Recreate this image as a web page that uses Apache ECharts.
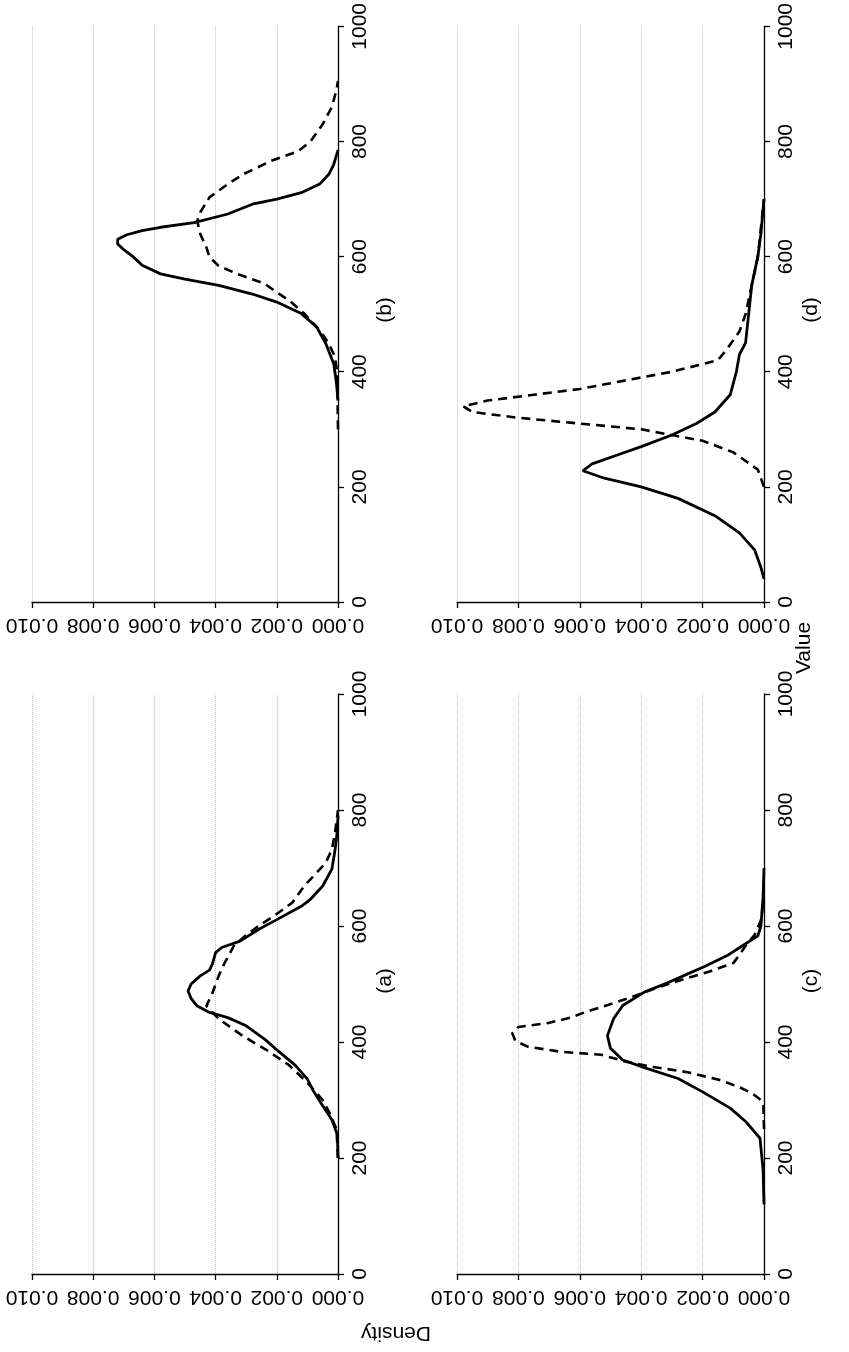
<!DOCTYPE html>
<html><head><meta charset="utf-8">
<script src="https://cdn.jsdelivr.net/npm/echarts/dist/echarts.min.js"></script>
<style>html,body{margin:0;padding:0;background:#fff}#c{width:849px;height:1352px}</style>
</head><body><div id="c"></div>
<script>
// tick definitions
const densityMin = 0, densityMax = 0.010, densityStep = 0.002;
const valueMin = 0, valueMax = 1000, valueStep = 200;
const panelLabels = ['(a)', '(b)', '(c)', '(d)'];
const xTitle = 'Value';
const yTitle = 'Density';

// curves: [value, density]
const aSolid = [[200,0],[240,0.00002],[266,0.0002],[290,0.0005],[315,0.0008],[336,0.0010],[360,0.0014],[382,0.0019],[405,0.0024],[428,0.0030],[442,0.0036],[451,0.0042],[462,0.0046],[475,0.0048],[488,0.0049],[500,0.0048],[514,0.0045],[524,0.0042],[535,0.0041],[554,0.0040],[563,0.0038],[574,0.0032],[594,0.0026],[611,0.0020],[634,0.0012],[646,0.0009],[669,0.0005],[698,0.0002],[730,0.0001],[760,0.00003],[790,0]];
const aDashed = [[200,0],[250,0.00005],[280,0.0003],[300,0.0005],[330,0.0010],[360,0.0016],[385,0.0023],[410,0.0031],[440,0.0039],[462,0.0043],[485,0.0041],[514,0.0039],[537,0.0037],[566,0.0034],[580,0.0031],[600,0.0026],[617,0.0021],[640,0.0015],[669,0.0011],[686,0.0008],[709,0.0004],[732,0.0002],[760,0.0001],[800,0]];
const bSolid = [[350,0],[380,0.00005],[414,0.00014],[449,0.0004],[478,0.0007],[501,0.0012],[521,0.0020],[535,0.0028],[550,0.0039],[561,0.0050],[570,0.0058],[585,0.0064],[600,0.0067],[612,0.0070],[622,0.0072],[630,0.0072],[638,0.0069],[645,0.0064],[651,0.0058],[659,0.0047],[674,0.0036],[691,0.0028],[700,0.0020],[711,0.0012],[726,0.0006],[743,0.0003],[760,0.00014],[785,0]];
const bDashed = [[300,0],[400,0.00003],[426,0.0001],[449,0.0003],[472,0.0006],[501,0.0011],[524,0.0016],[538,0.0020],[553,0.0024],[570,0.0033],[584,0.0039],[599,0.0042],[616,0.0043],[639,0.0045],[662,0.0046],[677,0.0045],[703,0.0042],[726,0.0036],[743,0.0031],[766,0.0022],[783,0.0013],[800,0.0009],[830,0.0005],[860,0.0002],[890,0.00005],[905,0]];
const cSolid = [[120,0],[180,0.00003],[234,0.00013],[263,0.0006],[286,0.0011],[314,0.0020],[337,0.0028],[354,0.0038],[369,0.0046],[389,0.0050],[411,0.0051],[440,0.0049],[463,0.0046],[486,0.0039],[503,0.0031],[517,0.0025],[531,0.0019],[549,0.0012],[566,0.0007],[583,0.0002],[600,0.0001],[650,0.00003],[700,0]];
const cDashed = [[250,0],[290,0.00002],[300,0.0001],[312,0.0004],[322,0.0008],[334,0.0014],[348,0.0025],[357,0.0036],[366,0.0045],[378,0.0053],[383,0.0066],[392,0.0077],[402,0.0081],[415,0.0082],[426,0.0080],[433,0.0070],[442,0.0063],[452,0.0058],[460,0.0053],[476,0.0044],[495,0.0034],[507,0.0027],[521,0.0018],[536,0.0010],[550,0.0008],[566,0.0006],[585,0.0003],[610,0.0001],[650,0]];
const dSolid = [[40,0],[60,0.0001],[90,0.0003],[120,0.0008],[150,0.0016],[180,0.0028],[200,0.0040],[215,0.0052],[228,0.0059],[240,0.0056],[255,0.0048],[270,0.0040],[290,0.0030],[310,0.0022],[330,0.0016],[360,0.0011],[400,0.0009],[430,0.0008],[450,0.0006],[500,0.0005],[550,0.0004],[600,0.0002],[640,0.0001],[700,0]];
const dDashed = [[200,0],[230,0.0002],[260,0.0010],[280,0.0020],[300,0.0040],[310,0.0060],[320,0.0080],[330,0.0095],[340,0.0098],[350,0.0090],[360,0.0075],[370,0.0060],[385,0.0045],[400,0.0030],[420,0.0015],[440,0.0012],[470,0.0008],[500,0.0006],[550,0.0004],[600,0.0002],[650,0.0001],[700,0]];

const panels = [
  {solid: aSolid, dashed: aDashed},
  {solid: bSolid, dashed: bDashed},
  {solid: cSolid, dashed: cDashed},
  {solid: dSolid, dashed: dDashed}
];

const FONT = 'Liberation Sans, Arial, sans-serif';
const FS = 21;
const grids = [
  {left: 32, top: 694, width: 306, height: 580},
  {left: 32, top: 24, width: 306, height: 578},
  {left: 457, top: 694, width: 307, height: 580},
  {left: 457, top: 24, width: 307, height: 578}
];
const axisLine = {show: true, onZero: false, lineStyle: {color: '#000', width: 1.3}};
const axisTick = {show: true, length: 6, lineStyle: {color: '#000', width: 1.3}};

const xAxes = grids.map((g, i) => ({
  gridIndex: i, type: 'value', inverse: true, position: 'bottom',
  min: densityMin, max: densityMax, interval: densityStep,
  axisLine, axisTick,
  axisLabel: {rotate: 180, margin: 12, fontSize: FS, fontFamily: FONT, color: '#000',
    formatter: v => v.toFixed(3)},
  splitLine: {show: true, lineStyle: {color: '#bdbdbd', type: 'dotted', width: 1}}
}));
const yAxes = grids.map((g, i) => ({
  gridIndex: i, type: 'value', position: 'right',
  min: valueMin, max: valueMax, interval: valueStep,
  axisLine, axisTick,
  axisLabel: {rotate: 90, margin: 12, fontSize: FS, fontFamily: FONT, color: '#000',
    formatter: v => String(Math.round(v))},
  splitLine: {show: false}
}));
const series = [];
panels.forEach((p, i) => {
  series.push({type: 'line', xAxisIndex: i, yAxisIndex: i, symbol: 'none', silent: true,
    data: p.solid.map(d => [d[1], d[0]]), lineStyle: {color: '#000', width: 2.8, type: 'solid'}});
  series.push({type: 'line', xAxisIndex: i, yAxisIndex: i, symbol: 'none', silent: true,
    data: p.dashed.map(d => [d[1], d[0]]), lineStyle: {color: '#000', width: 2.6, type: [9, 6]}});
});

const graphics = grids.map((g, i) => ({
  type: 'text', x: g.left + g.width + 47, y: g.top + g.height / 2 - 3, rotation: Math.PI / 2,
  style: {text: panelLabels[i], fontSize: FS, fontFamily: FONT, fill: '#000', align: 'center', verticalAlign: 'middle'}
}));
graphics.push({type: 'text', x: 396, y: 1333, rotation: Math.PI,
  style: {text: yTitle, fontSize: FS, fontFamily: FONT, fill: '#000', align: 'center', verticalAlign: 'middle'}});
graphics.push({type: 'text', x: 804, y: 648, rotation: Math.PI / 2,
  style: {text: xTitle, fontSize: FS, fontFamily: FONT, fill: '#000', align: 'center', verticalAlign: 'middle'}});

const chart = echarts.init(document.getElementById('c'), null, {renderer: 'canvas'});
chart.setOption({
  animation: false, backgroundColor: '#fff',
  grid: grids, xAxis: xAxes, yAxis: yAxes, series, graphic: graphics
});
</script></body></html>
